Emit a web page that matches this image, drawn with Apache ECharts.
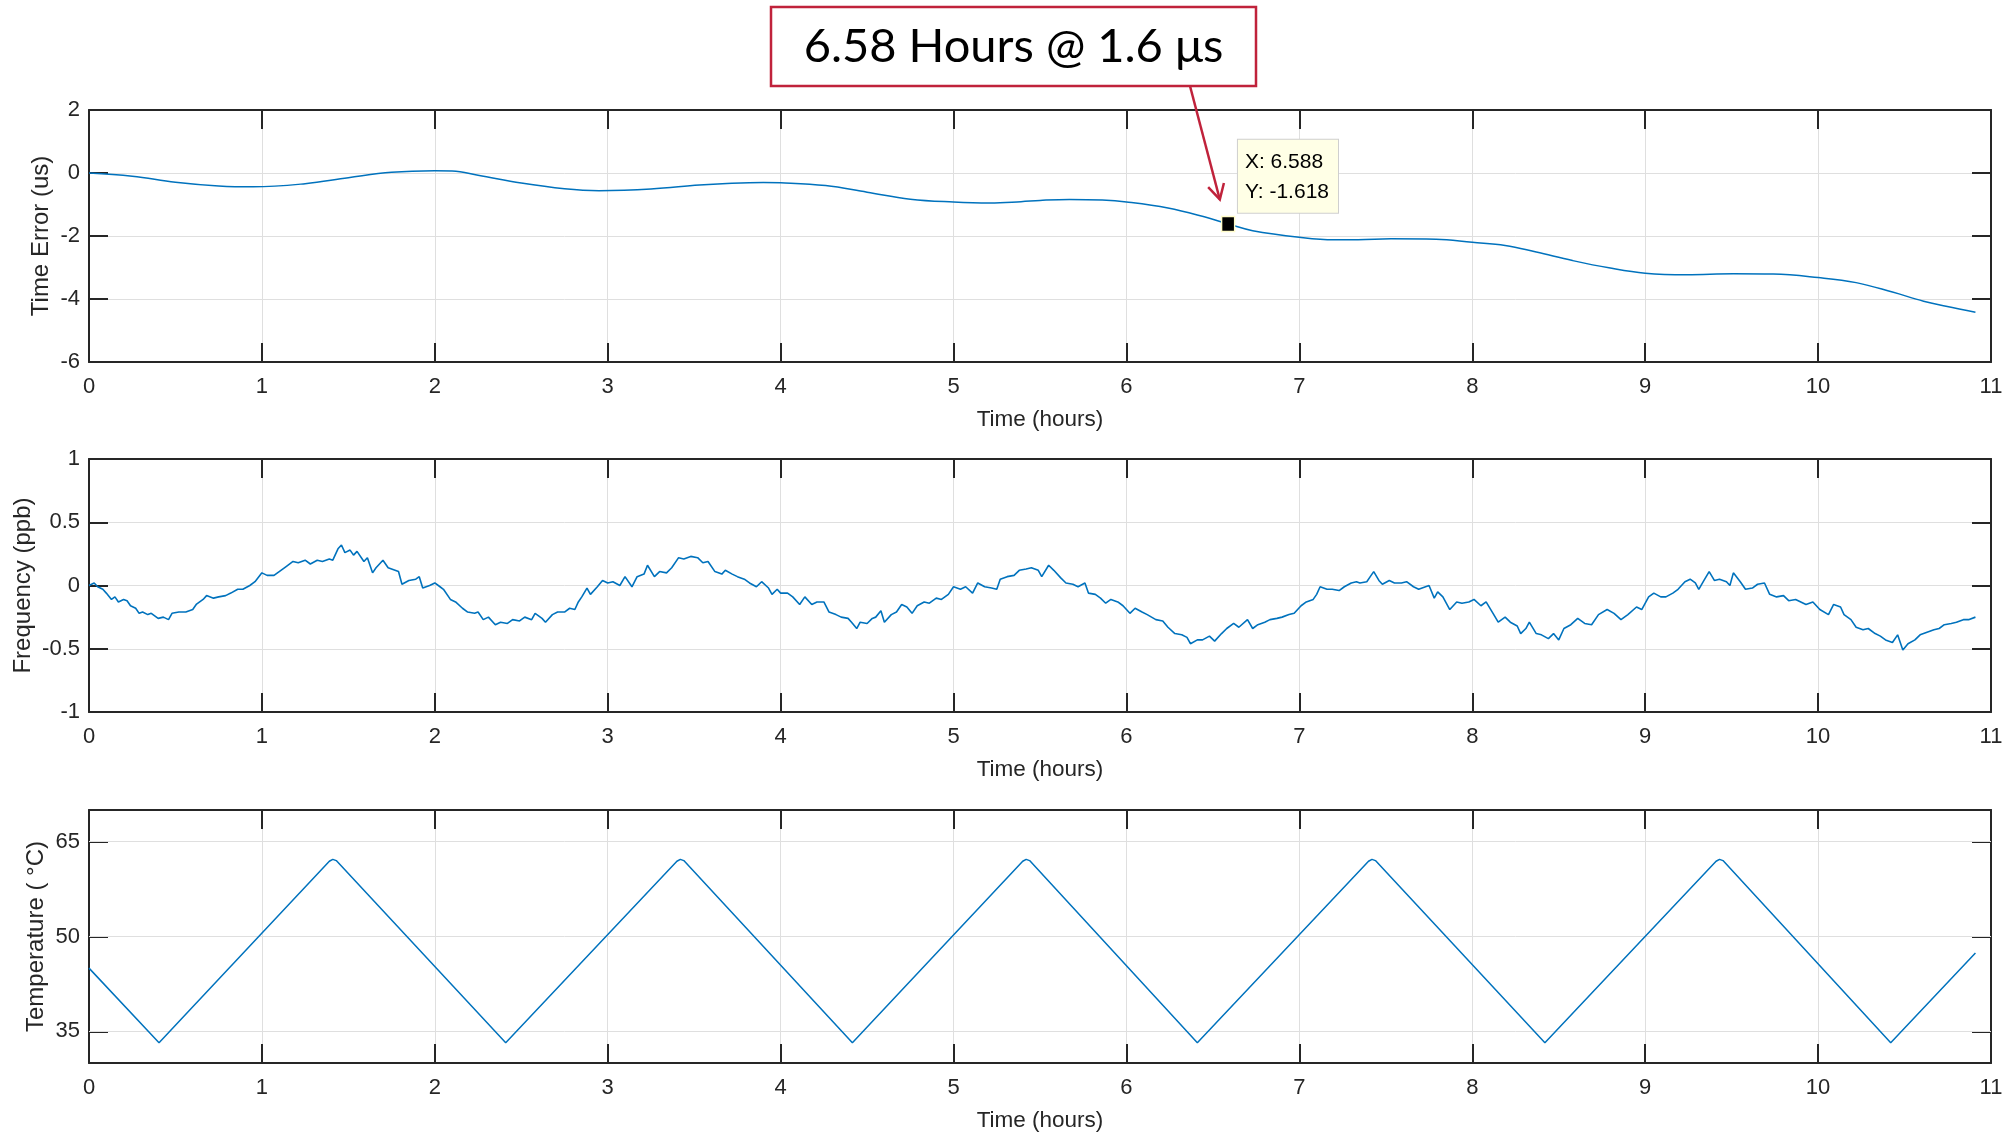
<!DOCTYPE html>
<html><head><meta charset="utf-8">
<script src="https://cdn.jsdelivr.net/npm/echarts@6/dist/echarts.min.js"></script>
<style>html,body{margin:0;padding:0;background:#fff}#c{width:2015px;height:1134px}</style>
</head><body><div id="c"></div>
<script>
// ---------- DATA ----------
const timeErrT = [0,0.25,0.5,0.75,0.95,1.25,1.5,1.75,2.0,2.1,2.25,2.5,2.75,2.95,3.25,3.53,3.69,3.9,4.0,4.26,4.5,4.75,5.0,5.21,5.39,5.5,5.67,5.86,6.0,6.24,6.45,6.588,6.73,7.0,7.2,7.34,7.53,7.79,8.0,8.19,8.37,8.58,8.79,9.0,9.24,9.51,9.74,10.0,10.22,10.43,10.61,10.74,10.91];
const timeErrV = [0,-0.10,-0.29,-0.41,-0.44,-0.34,-0.15,0.02,0.07,0.06,-0.07,-0.32,-0.50,-0.56,-0.51,-0.38,-0.33,-0.30,-0.31,-0.40,-0.61,-0.83,-0.92,-0.95,-0.91,-0.87,-0.84,-0.86,-0.92,-1.11,-1.39,-1.618,-1.83,-2.04,-2.12,-2.12,-2.09,-2.10,-2.20,-2.30,-2.51,-2.78,-3.01,-3.18,-3.23,-3.20,-3.21,-3.32,-3.48,-3.78,-4.07,-4.23,-4.42];

const freqT = [0.00,0.03,0.05,0.08,0.10,0.13,0.15,0.17,0.20,0.22,0.24,0.27,0.29,0.31,0.34,0.36,0.40,0.43,0.46,0.48,0.52,0.56,0.60,0.62,0.66,0.68,0.72,0.75,0.79,0.82,0.86,0.89,0.93,0.96,1.00,1.03,1.07,1.11,1.14,1.18,1.21,1.25,1.28,1.32,1.35,1.39,1.41,1.44,1.46,1.48,1.51,1.53,1.55,1.59,1.61,1.64,1.66,1.70,1.73,1.77,1.79,1.81,1.85,1.89,1.91,1.93,1.97,2.00,2.03,2.05,2.09,2.12,2.16,2.19,2.23,2.25,2.28,2.31,2.35,2.38,2.42,2.45,2.49,2.52,2.56,2.58,2.62,2.64,2.68,2.71,2.75,2.78,2.81,2.83,2.85,2.88,2.90,2.94,2.97,3.00,3.03,3.07,3.10,3.14,3.17,3.21,3.23,3.27,3.30,3.34,3.37,3.41,3.44,3.48,3.52,3.55,3.58,3.62,3.66,3.68,3.72,3.75,3.79,3.82,3.86,3.89,3.93,3.95,3.98,4.00,4.04,4.07,4.11,4.14,4.18,4.21,4.25,4.28,4.32,4.35,4.39,4.41,4.44,4.46,4.50,4.53,4.55,4.58,4.60,4.64,4.67,4.70,4.73,4.76,4.79,4.83,4.86,4.90,4.93,4.97,5.00,5.04,5.07,5.11,5.14,5.18,5.22,5.25,5.27,5.31,5.35,5.38,5.42,5.45,5.49,5.51,5.55,5.58,5.62,5.65,5.69,5.72,5.76,5.78,5.82,5.85,5.88,5.91,5.95,5.98,6.02,6.05,6.09,6.12,6.17,6.21,6.24,6.28,6.32,6.35,6.37,6.41,6.44,6.48,6.51,6.55,6.58,6.62,6.65,6.70,6.73,6.76,6.80,6.83,6.87,6.90,6.94,6.97,7.01,7.04,7.08,7.10,7.12,7.16,7.19,7.23,7.26,7.30,7.33,7.35,7.39,7.41,7.43,7.46,7.48,7.52,7.55,7.59,7.62,7.66,7.69,7.73,7.75,7.78,7.80,7.83,7.87,7.91,7.94,7.98,8.01,8.05,8.08,8.12,8.15,8.19,8.22,8.26,8.28,8.31,8.33,8.37,8.40,8.44,8.47,8.50,8.53,8.57,8.61,8.65,8.69,8.73,8.78,8.82,8.86,8.90,8.95,8.98,9.02,9.05,9.09,9.12,9.16,9.19,9.23,9.26,9.29,9.31,9.34,9.37,9.40,9.43,9.47,9.49,9.51,9.55,9.58,9.62,9.65,9.69,9.72,9.76,9.80,9.83,9.87,9.90,9.93,9.97,10.01,10.06,10.09,10.13,10.15,10.19,10.22,10.26,10.29,10.33,10.36,10.39,10.43,10.46,10.49,10.52,10.56,10.59,10.63,10.67,10.70,10.73,10.77,10.80,10.84,10.87,10.91];
const freqV = [0.00,0.02,-0.01,-0.03,-0.06,-0.11,-0.09,-0.13,-0.11,-0.12,-0.16,-0.18,-0.22,-0.21,-0.23,-0.22,-0.26,-0.25,-0.27,-0.22,-0.21,-0.21,-0.19,-0.15,-0.11,-0.08,-0.10,-0.09,-0.08,-0.06,-0.03,-0.03,0.00,0.03,0.10,0.08,0.08,0.12,0.15,0.19,0.18,0.20,0.17,0.20,0.19,0.21,0.20,0.29,0.32,0.26,0.28,0.24,0.27,0.19,0.22,0.10,0.14,0.20,0.14,0.12,0.11,0.01,0.04,0.05,0.07,-0.02,0.00,0.02,-0.01,-0.03,-0.11,-0.13,-0.18,-0.21,-0.22,-0.21,-0.27,-0.25,-0.31,-0.29,-0.30,-0.27,-0.28,-0.25,-0.27,-0.22,-0.26,-0.29,-0.23,-0.21,-0.21,-0.18,-0.19,-0.13,-0.09,-0.02,-0.07,-0.01,0.04,0.02,0.03,0.00,0.07,-0.01,0.07,0.09,0.16,0.07,0.11,0.10,0.14,0.22,0.21,0.23,0.22,0.18,0.19,0.11,0.09,0.12,0.09,0.07,0.05,0.02,-0.01,0.03,-0.02,-0.07,-0.03,-0.06,-0.06,-0.09,-0.15,-0.09,-0.15,-0.13,-0.13,-0.21,-0.23,-0.25,-0.26,-0.29,-0.34,-0.29,-0.30,-0.26,-0.25,-0.20,-0.29,-0.23,-0.21,-0.15,-0.17,-0.22,-0.16,-0.13,-0.14,-0.10,-0.11,-0.07,-0.01,-0.03,-0.01,-0.06,0.02,-0.01,-0.02,-0.03,0.05,0.07,0.08,0.12,0.13,0.14,0.12,0.07,0.16,0.12,0.06,0.02,0.01,-0.01,0.02,-0.06,-0.07,-0.10,-0.14,-0.11,-0.13,-0.16,-0.22,-0.18,-0.21,-0.23,-0.27,-0.28,-0.33,-0.38,-0.39,-0.41,-0.46,-0.43,-0.43,-0.40,-0.44,-0.38,-0.34,-0.30,-0.33,-0.27,-0.34,-0.31,-0.29,-0.27,-0.26,-0.25,-0.23,-0.22,-0.16,-0.13,-0.11,-0.07,-0.01,-0.03,-0.03,-0.04,-0.01,0.02,0.03,0.02,0.03,0.07,0.11,0.04,0.01,0.04,0.02,0.02,0.03,-0.01,-0.03,-0.01,0.00,-0.10,-0.05,-0.09,-0.19,-0.13,-0.14,-0.13,-0.11,-0.16,-0.13,-0.22,-0.29,-0.25,-0.29,-0.32,-0.38,-0.34,-0.29,-0.38,-0.39,-0.42,-0.38,-0.43,-0.34,-0.31,-0.26,-0.30,-0.31,-0.23,-0.19,-0.22,-0.27,-0.23,-0.17,-0.19,-0.09,-0.06,-0.09,-0.09,-0.06,-0.03,0.03,0.05,0.02,-0.03,0.04,0.11,0.04,0.05,0.03,0.00,0.10,0.03,-0.03,-0.02,0.01,0.02,-0.07,-0.09,-0.08,-0.12,-0.11,-0.13,-0.15,-0.13,-0.19,-0.23,-0.15,-0.17,-0.23,-0.27,-0.33,-0.35,-0.34,-0.38,-0.40,-0.43,-0.45,-0.39,-0.51,-0.46,-0.43,-0.39,-0.37,-0.35,-0.34,-0.31,-0.30,-0.29,-0.27,-0.27,-0.25];

const tempT = [0,0.405,1.39,1.41,1.43,2.41,3.40,3.42,3.44,4.415,5.40,5.42,5.44,6.41,7.40,7.42,7.44,8.42,9.41,9.43,9.45,10.42,10.91];
const tempV = [45.0,33.2,61.9,62.2,62.0,33.2,61.9,62.2,62.0,33.2,61.9,62.2,62.0,33.2,61.9,62.2,62.0,33.2,61.9,62.2,62.0,33.2,47.4];

const xTickInterval = 1;
const tempTicks = [35, 50, 65];
const dataTip = { x: 6.588, y: -1.618 };
const arrowTip = { x: 6.54, y: -0.84 };
const annotationText = '6.58 Hours @ 1.6 μs';
const yNames = ['Time Error (us)', 'Frequency (ppb)', 'Temperature ( °C)'];

// ---------- STYLE ----------
const FONT = "'Liberation Sans', Arial, Helvetica, sans-serif";
const AX = '#262626';
const GRIDC = '#dfdfdf';
const LINE = '#0072BD';
const RED = '#c0223b';

const zip = (a, b) => a.map((v, i) => [v, b[i]]);

const grids = [
  { left: 89, right: 24, top: 110, height: 252 },
  { left: 89, right: 24, top: 459, height: 253 },
  { left: 89, right: 24, top: 810, height: 253 }
].map(g => Object.assign(g, { containLabel: false, outerBoundsMode: 'none' }));

const yRanges = [
  { min: -6, max: 2, interval: 2 },
  { min: -1, max: 1, interval: 0.5 },
  { min: 30, max: 70, custom: tempTicks }
];
const yNameGaps = [36, 54, 41];

const tickStyle = { show: true, inside: true, length: 19, lineStyle: { color: AX, width: 2 } };
const lineStyleAx = { show: true, onZero: false, lineStyle: { color: AX, width: 2 } };

const xAxis = [], yAxis = [];
for (let i = 0; i < 3; i++) {
  xAxis.push({
    gridIndex: i, type: 'value', min: 0, max: 11, interval: xTickInterval, position: 'bottom',
    name: 'Time (hours)', nameLocation: 'middle', nameGap: 46, nameMoveOverlap: false,
    nameTextStyle: { fontSize: 22.5, color: AX, fontFamily: FONT },
    axisLine: lineStyleAx, axisTick: tickStyle,
    axisLabel: { show: true, margin: 14, fontSize: 22, color: AX, fontFamily: FONT, showMinLabel: true, showMaxLabel: true, hideOverlap: false },
    splitLine: { show: true, lineStyle: { color: GRIDC, width: 1 } }
  });
  xAxis.push({
    gridIndex: i, type: 'value', min: 0, max: 11, interval: xTickInterval, position: 'top',
    axisLine: lineStyleAx, axisTick: tickStyle, axisLabel: { show: false }, splitLine: { show: false }
  });
  const r = yRanges[i];
  const base = { gridIndex: i, type: 'value', min: r.min, max: r.max };
  if (r.interval) base.interval = r.interval;
  const left = Object.assign({}, base, {
    position: 'left', name: yNames[i], nameLocation: 'middle', nameGap: yNameGaps[i], nameMoveOverlap: false,
    nameTextStyle: { fontSize: 24, color: AX, fontFamily: FONT },
    axisLine: lineStyleAx,
    axisTick: Object.assign({}, tickStyle, r.custom ? { customValues: r.custom } : {}),
    axisLabel: Object.assign({ show: true, margin: 9, fontSize: 22, color: AX, fontFamily: FONT, showMinLabel: true, showMaxLabel: true }, r.custom ? { customValues: r.custom } : {}),
    splitLine: { show: !r.custom, lineStyle: { color: GRIDC, width: 1 } }
  });
  const right = Object.assign({}, base, {
    position: 'right', axisLine: lineStyleAx,
    axisTick: Object.assign({}, tickStyle, r.custom ? { customValues: r.custom } : {}),
    axisLabel: { show: false }, splitLine: { show: false }
  });
  yAxis.push(left, right);
}

const option = {
  animation: false,
  backgroundColor: '#fff',
  grid: grids,
  xAxis, yAxis,
  series: [
    {
      type: 'line', xAxisIndex: 0, yAxisIndex: 0, data: zip(timeErrT, timeErrV),
      showSymbol: false, smooth: 0.4, lineStyle: { color: LINE, width: 1.5 }, z: 3,
      markPoint: {
        silent: true, animation: false, symbol: 'rect', symbolSize: [13, 15],
        itemStyle: { color: '#000', borderColor: '#fffcc8', borderWidth: 1.5 },
        data: [{ coord: [dataTip.x, dataTip.y], value: dataTip.y }],
        label: {
          show: true, position: [17, -76], align: 'left', verticalAlign: 'top',
          formatter: 'X: ' + dataTip.x + '\nY: ' + dataTip.y,
          backgroundColor: '#ffffe6', borderColor: '#cfcfcf', borderWidth: 1,
          padding: [8, 9, 5, 7], fontSize: 21, lineHeight: 30, color: '#000', fontFamily: FONT
        }
      }
    },
    {
      type: 'line', xAxisIndex: 2, yAxisIndex: 2, data: zip(freqT, freqV),
      showSymbol: false, lineStyle: { color: LINE, width: 1.6 }, z: 3
    },
    {
      type: 'line', xAxisIndex: 4, yAxisIndex: 4, data: zip(tempT, tempV),
      showSymbol: false, lineStyle: { color: LINE, width: 1.5 }, z: 3,
      markLine: {
        silent: true, animation: false, symbol: ['none', 'none'], label: { show: false },
        lineStyle: { color: GRIDC, width: 1, type: 'solid' }, z: 1,
        data: tempTicks.map(v => ({ yAxis: v }))
      }
    }
  ]
};

const chart = echarts.init(document.getElementById('c'), null, { renderer: 'canvas' });
chart.setOption(option);

const tip = chart.convertToPixel({ xAxisIndex: 0, yAxisIndex: 0 }, [arrowTip.x, arrowTip.y]);
const sx = 1190, sy = 86;
const tx = tip[0], ty = tip[1];
const dx = sx - tx, dy = sy - ty, L = Math.hypot(dx, dy), ux = dx / L, uy = dy / L;
const a = 0.5, wl = 17;
const w1 = [tx + wl * (ux * Math.cos(a) - uy * Math.sin(a)), ty + wl * (ux * Math.sin(a) + uy * Math.cos(a))];
const w2 = [tx + wl * (ux * Math.cos(-a) - uy * Math.sin(-a)), ty + wl * (ux * Math.sin(-a) + uy * Math.cos(-a))];

chart.setOption({
  graphic: [
    { type: 'rect', shape: { x: 771, y: 7, width: 485, height: 79 }, style: { fill: '#fff', stroke: RED, lineWidth: 2.5 }, z: 100 },
    { type: 'text', x: 1013.5, y: 47, style: { text: annotationText, fontSize: 47, fontFamily: 'Lato, "Open Sans", sans-serif', fill: '#000', align: 'center', verticalAlign: 'middle', textAlign: 'center', textVerticalAlign: 'middle' }, z: 101 },
    { type: 'line', shape: { x1: sx, y1: sy, x2: tx, y2: ty }, style: { stroke: RED, lineWidth: 2.5 }, z: 100 },
    { type: 'polyline', shape: { points: [w1, [tx, ty], w2] }, style: { stroke: RED, lineWidth: 2.5, fill: null }, z: 100 }
  ]
});
</script>
</body></html>
